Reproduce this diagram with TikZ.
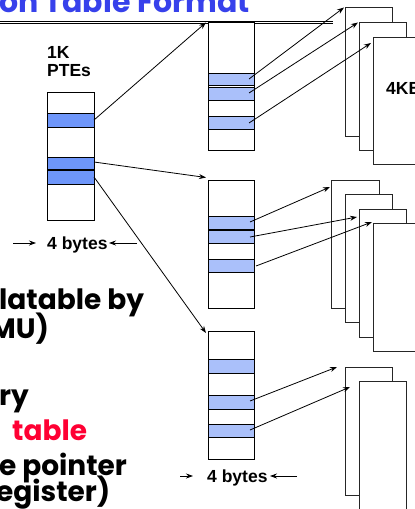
\documentclass[tikz,border=0pt]{standalone}
\usepackage{fontspec}
\setmainfont{Liberation Sans}
\newfontfamily\comic{Poppins}
\usetikzlibrary{arrows.meta}
\definecolor{titleblue}{RGB}{55,65,235}
\definecolor{rowdark}{RGB}{110,150,250}
\definecolor{rowlight}{RGB}{170,192,250}
\definecolor{redtxt}{RGB}{255,0,51}
\begin{document}
\begin{tikzpicture}[x=1pt,y=-1pt,
  tbl/.style={draw=black,line width=1pt,fill=white},
  rowd/.style={draw=black,line width=1pt,fill=rowdark},
  rowl/.style={draw=black,line width=1pt,fill=rowlight},
  page/.style={draw=black!85,line width=1pt,fill=white},
  arr/.style={-{Stealth[length=7pt,width=5pt]},line width=0.8pt},
  lbl/.style={font=\fontsize{17.5}{18}\selectfont\bfseries,inner sep=0pt,anchor=base west},
  big/.style={font=\comic\fontsize{28}{30}\selectfont\bfseries,inner sep=0pt,anchor=base west}]
\useasboundingbox (0,0) rectangle (415,509);
\clip (0,0) rectangle (415,509);
% title
\node[big,font=\comic\fontsize{30}{32}\selectfont\bfseries,text=titleblue] (title) at (-1,12.5) {on Table Format};
\draw[line width=1pt] (0,21.5) -- (333,21.5);
\draw[line width=0.8pt] (0,23.7) -- (333,23.7);
% left table
\node[lbl] (k1) at (47,58) {1K};
\node[lbl] (ptes) at (47,76) {PTEs};
\draw[tbl] (47,92) rectangle (94,220);
\draw[rowd] (47,113) rectangle (94,127);
\draw[rowd] (47,157) rectangle (94,169.5);
\draw[rowd] (47,170.5) rectangle (94,184);
\node[lbl] (b1) at (47,249) {4 bytes};
\coordinate (b1l) at (13,243);  \coordinate (b1le) at (36,243);
\coordinate (b1r) at (137,243); \coordinate (b1re) at (109,243);
\draw[arr] (b1l) -- (b1le);
\draw[arr] (b1r) -- (b1re);
% middle tables
\draw[tbl] (208,22) rectangle (254,150);
\draw[rowl] (208,73) rectangle (254,85);
\draw[rowl] (208,87) rectangle (254,100);
\draw[rowl] (208,116) rectangle (254,129);
\draw[tbl] (208,180) rectangle (254,308);
\draw[rowl] (208,216) rectangle (254,229.5);
\draw[rowl] (208,230.5) rectangle (254,243.5);
\draw[rowl] (208,259) rectangle (254,272);
\draw[tbl] (208,331) rectangle (254,459);
\draw[rowl] (208,359) rectangle (254,373);
\draw[rowl] (208,395) rectangle (254,409);
\draw[rowl] (208,424) rectangle (254,437);
\node[lbl] (b2) at (207,482) {4 bytes};
\coordinate (b2l) at (180,476);  \coordinate (b2le) at (193,476);
\coordinate (b2r) at (297,476);  \coordinate (b2re) at (270,476);
\draw[arr] (b2l) -- (b2le);
\draw[arr] (b2r) -- (b2re);
% pages top group
\draw[page] (345,7.5) rectangle (392,136);
\draw[page] (359,22.5) rectangle (406,150);
\draw[page] (373,37) rectangle (420,164);
\node[lbl] (kb) at (386,94) {4KB};
% pages middle group
\draw[page] (331,180) rectangle (379,308);
\draw[page] (345,194.5) rectangle (392,322);
\draw[page] (359,209) rectangle (406,337);
\draw[page] (373,223.5) rectangle (420,351);
% pages bottom group
\draw[page] (345,367) rectangle (392,495);
\draw[page] (359,381) rectangle (406,512);
% connectors from left table
\coordinate (l1) at (94,120);
\coordinate (l2) at (94,162);
\coordinate (l3) at (94,177);
\coordinate (m1) at (206,22.5);
\coordinate (m2) at (206,177.5);
\coordinate (m3) at (206,333);
\draw[arr] (l1) -- (m1);
\draw[arr] (l2) -- (m2);
\draw[arr] (l3) -- (m3);
% connectors from middle tables
\coordinate (a1) at (249,79);   \coordinate (p1) at (344,7.5);
\coordinate (a2) at (249,93);   \coordinate (p2) at (358,22.5);
\coordinate (a3) at (249,123);  \coordinate (p3) at (371,43);
\draw[arr] (a1) -- (p1);
\draw[arr] (a2) -- (p2);
\draw[arr] (a3) -- (p3);
\coordinate (c1) at (250,222);  \coordinate (q1) at (330,187);
\coordinate (c2) at (250,237);  \coordinate (q2) at (357,217);
\coordinate (c3) at (256,266);  \coordinate (q3) at (372,222);
\draw[arr] (c1) -- (q1);
\draw[arr] (c2) -- (q2);
\draw[arr] (c3) -- (q3);
\coordinate (d1) at (250,401);  \coordinate (r1) at (337,367);
\coordinate (d2) at (250,430);  \coordinate (r2) at (350,387);
\draw[arr] (d1) -- (r1);
\draw[arr] (d2) -- (r2);
% left text
\node[big] (t1) at (-1,309) {latable by};
\node[big] (t2) at (-10,338) {MU)};
\node[big] (t3) at (-1,405) {ry};
\node[big,text=redtxt] (t4) at (12,440) {table};
\node[big] (t5) at (-1,475) {e pointer};
\node[big] (t6) at (-4,501) {egister)};
\end{tikzpicture}
\end{document}
